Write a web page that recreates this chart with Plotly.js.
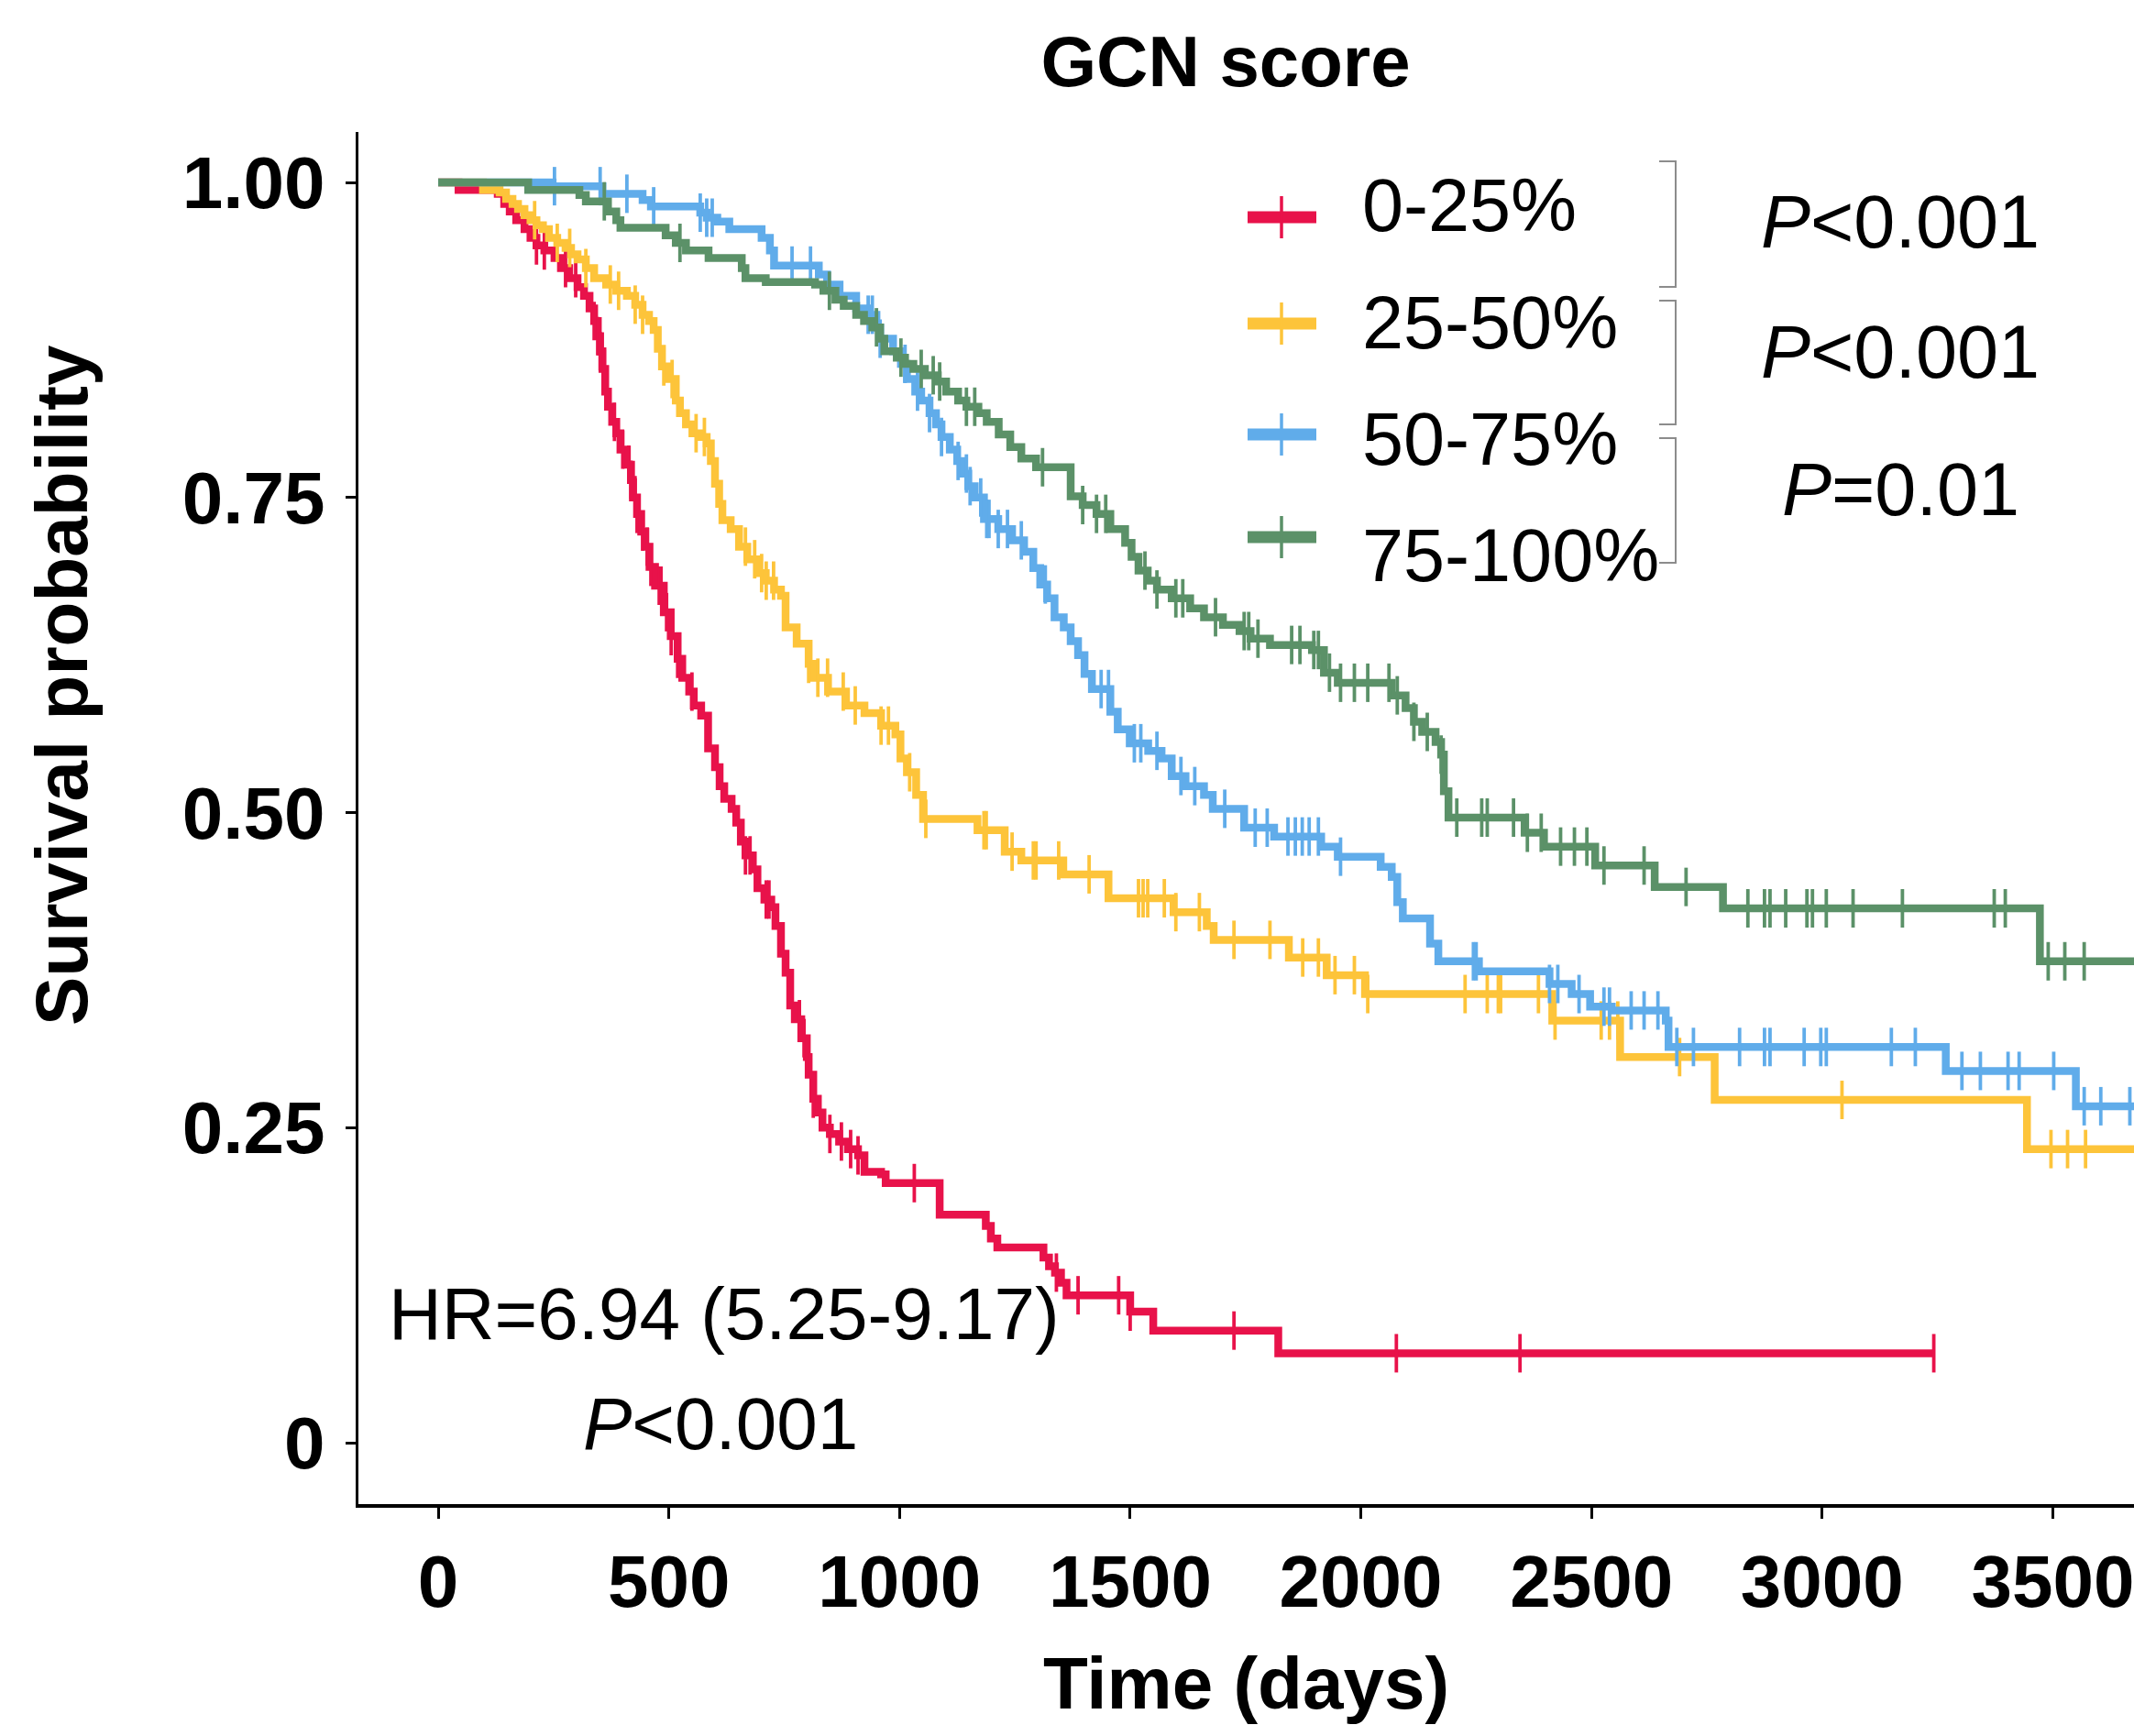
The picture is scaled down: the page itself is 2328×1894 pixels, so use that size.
<!DOCTYPE html>
<html>
<head>
<meta charset="utf-8">
<script src="https://cdn.plot.ly/plotly-3.0.1.min.js"></script>
<style>
  html, body { margin: 0; padding: 0; background: #ffffff; }
  #chart { width: 2328px; height: 1894px; }
</style>
</head>
<body>
<div id="chart"></div>
<script>
// Kaplan-Meier curves of overall survival by GCN score quartile

const groupNames = ['0-25%', '25-50%', '50-75%', '75-100%'];

// Quartile 0-25%: event times (days) and survival after each step
const q1Time = [0, 44, 129, 143, 155, 169, 187, 200, 213, 230, 252, 266, 284, 302, 316, 328, 338, 346, 351, 356,
  362, 368, 377, 386, 395, 409, 418, 422, 431, 440, 449, 458, 470, 489, 504, 519, 529, 544, 554, 570,
  585, 600, 610, 620, 636, 646, 656, 666, 682, 692, 707, 722, 731, 743, 753, 763, 773, 787, 799, 803,
  813, 823, 833, 849, 869, 888, 910, 924, 960, 970, 1087, 1187, 1198, 1212, 1312, 1324, 1337, 1350, 1362, 1500,
  1550, 1821];
const q1Surv = [1.000, 0.994, 0.991, 0.983, 0.977, 0.970, 0.963, 0.956, 0.950, 0.946, 0.940, 0.932, 0.924, 0.917, 0.910, 0.900, 0.890, 0.878, 0.866, 0.852,
  0.834, 0.822, 0.810, 0.801, 0.788, 0.776, 0.764, 0.750, 0.737, 0.723, 0.711, 0.695, 0.680, 0.659, 0.640, 0.622, 0.607, 0.596, 0.585, 0.577,
  0.551, 0.536, 0.521, 0.511, 0.503, 0.492, 0.477, 0.466, 0.455, 0.440, 0.431, 0.425, 0.410, 0.388, 0.373, 0.347, 0.336, 0.321, 0.306, 0.292,
  0.273, 0.262, 0.250, 0.245, 0.239, 0.233, 0.228, 0.215, 0.213, 0.206, 0.181, 0.172, 0.162, 0.155, 0.147, 0.140, 0.135, 0.127, 0.117, 0.104,
  0.089, 0.071];
const q1Censor = [213, 230, 276, 298, 338, 346, 351, 360, 382, 400, 413, 418, 427, 431, 443, 453, 461, 479, 483, 495,
  505, 519, 550, 666, 676, 711, 717, 783, 793, 799, 813, 849, 874, 894, 910, 1032, 1340, 1387, 1475, 1500,
  1725, 2077, 2345, 3242];

// Quartile 25-50%
const q2Time = [0, 97, 133, 147, 161, 173, 187, 200, 213, 227, 240, 258, 276, 288, 302, 320, 338, 364, 386, 409,
  427, 443, 457, 467, 476, 485, 497, 515, 524, 537, 551, 568, 582, 591, 600, 609, 616, 634, 652, 670,
  692, 710, 728, 743, 753, 777, 803, 813, 845, 884, 924, 960, 991, 1002, 1016, 1036, 1051, 1169, 1228, 1264,
  1355, 1453, 1594, 1666, 1681, 1844, 1926, 2009, 2415, 2562, 2767, 3444];
const q2Surv = [1.000, 0.994, 0.992, 0.987, 0.983, 0.979, 0.974, 0.970, 0.966, 0.963, 0.956, 0.952, 0.948, 0.943, 0.939, 0.932, 0.924, 0.919, 0.914, 0.910,
  0.903, 0.895, 0.890, 0.883, 0.868, 0.854, 0.844, 0.827, 0.817, 0.808, 0.801, 0.798, 0.793, 0.779, 0.761, 0.745, 0.732, 0.725, 0.711, 0.701,
  0.690, 0.684, 0.677, 0.672, 0.647, 0.634, 0.618, 0.607, 0.596, 0.585, 0.579, 0.569, 0.562, 0.543, 0.532, 0.514, 0.495, 0.486, 0.469, 0.462,
  0.451, 0.432, 0.421, 0.410, 0.399, 0.385, 0.371, 0.356, 0.335, 0.306, 0.272, 0.233];
const q2Censor = [209, 258, 285, 320, 373, 391, 427, 443, 489, 507, 559, 577, 666, 686, 701, 711, 727, 803, 823, 844,
  878, 904, 960, 976, 1022, 1057, 1183, 1188, 1244, 1290, 1296, 1345, 1411, 1518, 1528, 1538, 1574, 1599, 1650, 1725,
  1803, 1874, 1908, 1944, 1986, 2015, 2226, 2274, 2298, 2303, 2385, 2421, 2521, 2539, 2557, 2691, 3043, 3496, 3532, 3571];

// Quartile 50-75%
const q3Time = [0, 248, 356, 443, 461, 568, 582, 605, 631, 701, 719, 728, 825, 843, 870, 906, 932, 950, 958, 986,
  1003, 1016, 1034, 1047, 1065, 1079, 1091, 1109, 1125, 1136, 1149, 1163, 1183, 1214, 1244, 1270, 1290, 1305, 1320, 1336,
  1356, 1371, 1387, 1401, 1417, 1457, 1473, 1499, 1539, 1568, 1590, 1620, 1660, 1679, 1747, 1812, 1914, 1950, 2043, 2067,
  2079, 2091, 2150, 2168, 2256, 2409, 2457, 2497, 2544, 2661, 2667, 3268, 3550];
const q3Surv = [1.000, 0.997, 0.991, 0.986, 0.981, 0.976, 0.972, 0.969, 0.963, 0.956, 0.946, 0.934, 0.927, 0.919, 0.910, 0.900, 0.895, 0.885, 0.876, 0.866,
  0.856, 0.844, 0.834, 0.827, 0.817, 0.808, 0.798, 0.788, 0.779, 0.769, 0.759, 0.750, 0.733, 0.725, 0.716, 0.707, 0.694, 0.681, 0.670, 0.655,
  0.647, 0.636, 0.625, 0.610, 0.598, 0.580, 0.566, 0.555, 0.549, 0.543, 0.529, 0.521, 0.514, 0.503, 0.488, 0.481, 0.473, 0.465, 0.457, 0.449,
  0.429, 0.416, 0.396, 0.382, 0.374, 0.364, 0.356, 0.346, 0.343, 0.335, 0.314, 0.295, 0.267];
const q3Censor = [252, 351, 409, 467, 568, 582, 594, 767, 807, 932, 941, 958, 1012, 1039, 1065, 1091, 1127, 1145, 1153, 1176,
  1189, 1194, 1214, 1234, 1264, 1316, 1437, 1453, 1509, 1523, 1558, 1610, 1640, 1705, 1771, 1797, 1842, 1858, 1873, 1888,
  1908, 1956, 2244, 2250, 2409, 2427, 2473, 2527, 2539, 2586, 2614, 2644, 2685, 2721, 2821, 2875, 2887, 2961, 2997, 3009,
  3150, 3202, 3303, 3343, 3403, 3427, 3502, 3568, 3604, 3667];

// Quartile 75-100%
const q4Time = [0, 195, 306, 320, 368, 386, 395, 493, 515, 537, 586, 658, 666, 710, 817, 835, 861, 879, 906, 923,
  941, 958, 967, 994, 1012, 1030, 1055, 1083, 1101, 1127, 1145, 1171, 1189, 1215, 1240, 1264, 1296, 1371, 1397, 1427,
  1457, 1489, 1503, 1518, 1538, 1558, 1590, 1630, 1660, 1701, 1737, 1761, 1803, 1894, 1920, 1950, 2067, 2097, 2115, 2133,
  2162, 2174, 2180, 2190, 2355, 2397, 2508, 2637, 2785, 3472];
const q4Surv = [1.000, 0.994, 0.990, 0.985, 0.977, 0.970, 0.964, 0.958, 0.952, 0.946, 0.940, 0.932, 0.924, 0.921, 0.919, 0.914, 0.907, 0.902, 0.895, 0.890,
  0.885, 0.876, 0.866, 0.861, 0.856, 0.852, 0.847, 0.842, 0.834, 0.827, 0.822, 0.817, 0.810, 0.800, 0.790, 0.781, 0.774, 0.751, 0.744, 0.737,
  0.725, 0.714, 0.703, 0.692, 0.684, 0.677, 0.670, 0.662, 0.655, 0.649, 0.644, 0.638, 0.633, 0.629, 0.611, 0.603, 0.593, 0.583, 0.572, 0.564,
  0.556, 0.546, 0.517, 0.496, 0.484, 0.473, 0.458, 0.441, 0.424, 0.382];
const q4Censor = [360, 524, 848, 950, 1003, 1047, 1073, 1087, 1145, 1163, 1310, 1397, 1427, 1447, 1532, 1558, 1599, 1614, 1685, 1747,
  1757, 1777, 1850, 1868, 1898, 1908, 1932, 1956, 1986, 2015, 2061, 2079, 2115, 2144, 2174, 2208, 2262, 2274, 2331, 2361,
  2391, 2433, 2463, 2490, 2527, 2614, 2705, 2839, 2875, 2887, 2921, 2967, 2979, 3009, 3067, 3174, 3373, 3397, 3490, 3526, 3568];

// Last follow-up day of each group (curves past the axis end are clipped)
const followUpEnd = [3242, 3800, 3800, 3800];

// Pairwise log-rank tests between neighbouring quartiles
const pairTests = ['<i>P</i><0.001', '<i>P</i><0.001', '<i>P</i>=0.01'];
const hrText = 'HR=6.94 (5.25-9.17)';
const hrP = '<i>P</i><0.001';

const xTickVals = [0, 500, 1000, 1500, 2000, 2500, 3000, 3500];
const yTickVals = [0, 0.25, 0.5, 0.75, 1];
const yTickText = ['0', '0.25', '0.50', '0.75', '1.00'];

const colors = ['#E8124A', '#FDC43A', '#60ACEA', '#5B9168'];

const series = [
  { time: q1Time, surv: q1Surv, censor: q1Censor },
  { time: q2Time, surv: q2Surv, censor: q2Censor },
  { time: q3Time, surv: q3Surv, censor: q3Censor },
  { time: q4Time, surv: q4Surv, censor: q4Censor }
];

const FONT = 'Liberation Sans, Arial, Helvetica, sans-serif';
const NARROW = 'Liberation Sans Narrow, Arial Narrow, Liberation Sans, sans-serif';

// Survival value of a step curve at day t
function survivalAt(times, surv, t) {
  let s = surv[0];
  for (let i = 0; i < times.length; i++) {
    if (times[i] <= t) s = surv[i]; else break;
  }
  return s;
}

const traces = [];
series.forEach((g, k) => {
  const xs = g.time.slice();
  const ys = g.surv.slice();
  xs.push(followUpEnd[k]);
  ys.push(g.surv[g.surv.length - 1]);
  traces.push({
    type: 'scatter', mode: 'lines', name: groupNames[k],
    x: xs, y: ys,
    line: { shape: 'hv', color: colors[k], width: 8.5 },
    hoverinfo: 'skip', showlegend: false
  });
  traces.push({
    type: 'scatter', mode: 'markers', name: groupNames[k] + ' censored',
    x: g.censor,
    y: g.censor.map(t => survivalAt(g.time, g.surv, t)),
    marker: { symbol: 'line-ns', size: 30, line: { color: colors[k], width: 3.8 } },
    hoverinfo: 'skip', showlegend: false
  });
});

// plot area in pixels
const PL = 391, PR = 2328, PT = 144, PB = 1641;
const px = v => (v - PL) / (PR - PL);
const py = v => (PB - v) / (PB - PT);

const shapes = [];
const annotations = [];

// hand-drawn legend: thick line with a thin censor tick, then the label
const legLineY = [237, 353, 474, 586];
const legTextY = [224, 352, 479, 606];
groupNames.forEach((name, k) => {
  shapes.push({ type: 'line', xref: 'paper', yref: 'paper',
    x0: px(1361), x1: px(1436), y0: py(legLineY[k]), y1: py(legLineY[k]),
    line: { color: colors[k], width: 13 } });
  shapes.push({ type: 'line', xref: 'paper', yref: 'paper',
    x0: px(1398), x1: px(1398), y0: py(legLineY[k] - 23), y1: py(legLineY[k] + 23),
    line: { color: colors[k], width: 3.5 } });
  annotations.push({ xref: 'paper', yref: 'paper', x: px(1484), y: py(legTextY[k]),
    xanchor: 'left', yanchor: 'middle', showarrow: false, text: name,
    font: { family: FONT, size: 81, color: '#000' } });
});

// brackets linking neighbouring groups with their P values
const bracketTop = [176, 328, 478];
const bracketBot = [313, 463, 614];
const pTextY = [242, 384, 534];
pairTests.forEach((t, k) => {
  shapes.push({ type: 'path', xref: 'paper', yref: 'paper',
    path: 'M' + px(1810) + ',' + py(bracketTop[k]) + ' L' + px(1828) + ',' + py(bracketTop[k]) +
          ' L' + px(1828) + ',' + py(bracketBot[k]) + ' L' + px(1810) + ',' + py(bracketBot[k]),
    line: { color: '#8c8c8c', width: 2 } });
  annotations.push({ xref: 'paper', yref: 'paper', x: px(2073), y: py(pTextY[k]),
    xanchor: 'center', yanchor: 'middle', showarrow: false, text: t,
    font: { family: FONT, size: 81, color: '#000' } });
});

// hazard ratio of the lowest vs highest quartile
annotations.push({ xref: 'paper', yref: 'paper', x: px(790), y: py(1433),
  xanchor: 'center', yanchor: 'middle', showarrow: false, text: hrText,
  font: { family: FONT, size: 80, color: '#000' } });
annotations.push({ xref: 'paper', yref: 'paper', x: px(786), y: py(1553),
  xanchor: 'center', yanchor: 'middle', showarrow: false, text: hrP,
  font: { family: FONT, size: 80, color: '#000' } });

// y axis title
annotations.push({ xref: 'paper', yref: 'paper', x: px(67), y: py(748),
  xanchor: 'center', yanchor: 'middle', showarrow: false, textangle: -90,
  text: 'Survival probability',
  font: { family: FONT, size: 80, color: '#000', weight: 'bold' } });

const layout = {
  width: 2328, height: 1894,
  margin: { l: PL, r: 2328 - PR, t: PT, b: 1894 - PB, pad: 0 },
  paper_bgcolor: '#ffffff', plot_bgcolor: '#ffffff',
  showlegend: false,
  title: { text: 'GCN score', x: 1337 / 2328, xanchor: 'center', y: 1 - 67 / 1894, yanchor: 'middle',
    font: { family: FONT, size: 78, color: '#000', weight: 'bold' } },
  xaxis: {
    range: [-173, 3676], tickvals: xTickVals, ticktext: xTickVals.map(String),
    showgrid: false, zeroline: false, showline: true, linecolor: '#000', linewidth: 3.5,
    ticks: 'outside', ticklen: 12, tickwidth: 3, tickcolor: '#000',
    ticklabeloverflow: 'allow',
    tickfont: { family: NARROW, size: 80, color: '#000', weight: 'bold' },
    title: { text: 'Time (days)', standoff: 40,
      font: { family: FONT, size: 80, color: '#000', weight: 'bold' } }
  },
  yaxis: {
    range: [-0.0487, 1.04], tickvals: yTickVals, ticktext: yTickText,
    showgrid: false, zeroline: false, showline: true, linecolor: '#000', linewidth: 3.5,
    ticks: 'outside', ticklen: 11, tickwidth: 3, tickcolor: '#000',
    ticklabelstandoff: 6,
    tickfont: { family: FONT, size: 80, color: '#000', weight: 'bold' }
  },
  shapes: shapes,
  annotations: annotations
};

Plotly.newPlot('chart', traces, layout, { staticPlot: true, displayModeBar: false });
</script>
</body>
</html>
